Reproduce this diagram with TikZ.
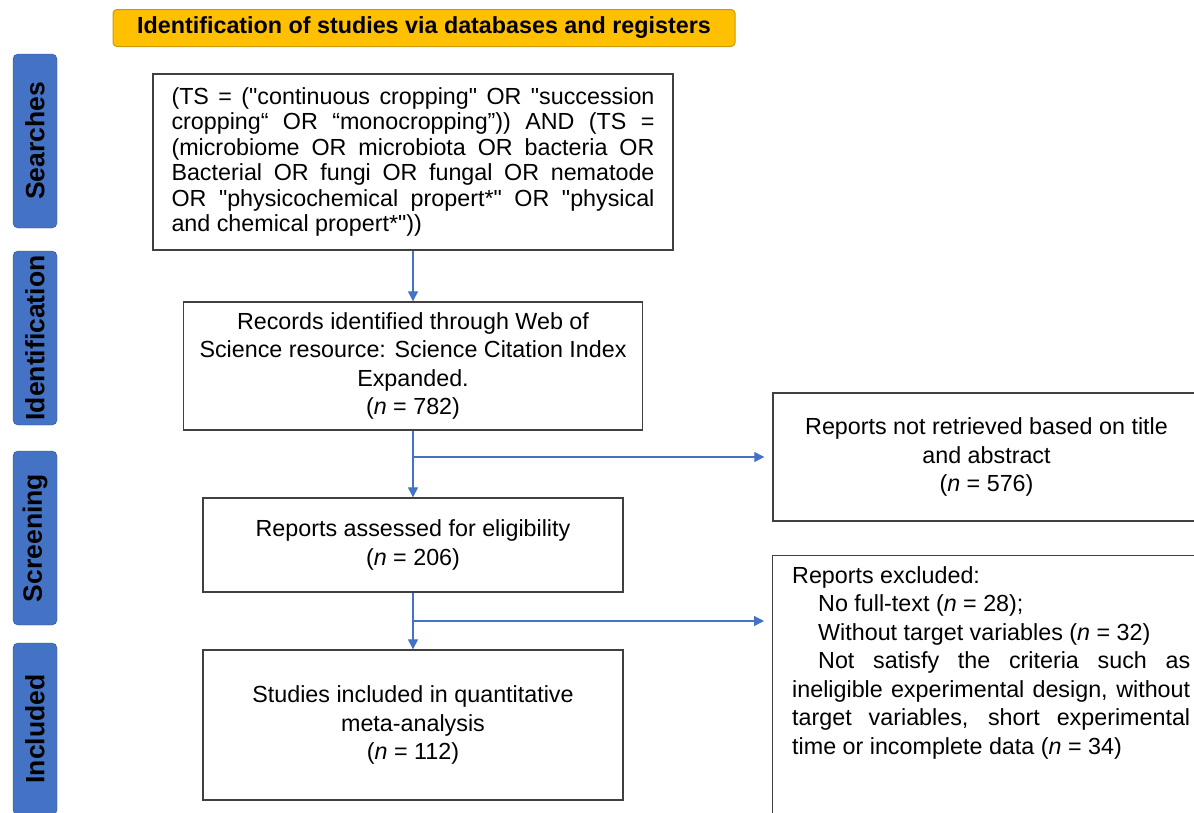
\documentclass[tikz,border=0pt]{standalone}
\usepackage{fontspec}
\setmainfont{Liberation Sans}[Ligatures=TeXOff]
\usetikzlibrary{arrows.meta,calc}
\definecolor{phaseblue}{HTML}{4472C4}
\definecolor{phaseedge}{HTML}{2F528F}
\definecolor{bannergold}{HTML}{FFC000}
\definecolor{banneredge}{HTML}{C99A06}
\definecolor{boxedge}{HTML}{404040}
\tolerance=10000
\hyphenpenalty=10000

\begin{document}
\begin{tikzpicture}[
x=1pt,y=-1pt,
font=\fontsize{23.3}{28.5}\selectfont,
banner/.style={
  draw=banneredge,
  fill=bannergold,
  rounded corners=4pt,
  line width=1pt,
  minimum width=622,
  minimum height=37,
  font=\fontsize{23.3}{28}\selectfont\bfseries
  },
phase/.style={
  draw=phaseedge,
  fill=phaseblue,
  rounded corners=5pt,
  rotate=90,
  inner sep=0pt,
  minimum width=174,
  minimum height=44,
  font=\fontsize{26.5}{30}\selectfont\bfseries
  },
box/.style={
  draw=boxedge,
  line width=1.4pt,
  fill=white,
  align=center
  },
flow/.style={
  ->,
  draw=phaseblue,
  line width=1.3pt
  },
>={Triangle[length=10pt,width=10pt]}
]
\useasboundingbox (0,0) rectangle (1194,812);

% title and phase labels
\node[banner] (head) at (424,28) {Identification of studies via databases and registers};
\node[phase] (searches) at (35,141) {Searches};
\node[phase] (ident) at (35,338) {Identification};
\node[phase] (screen) at (35,538) {Screening};
\node[phase, minimum width=172] (incl) at (35,729) {Included};

% main column
\node[box, text width=483, align=justify, inner xsep=18.5, minimum height=176,
  font=\fontsize{23.3}{25.5}\selectfont] (query) at (413,162)
  {(TS = ("continuous cropping" OR "succession\linebreak
  cropping“ OR “monocropping”)) AND (TS =\linebreak
  (microbiome OR microbiota OR bacteria OR\linebreak
  Bacterial OR fungi OR fungal OR nematode\linebreak
  OR "physicochemical propert*" OR "physical\linebreak
  and chemical propert*"))};
\node[box, minimum width=459, minimum height=128] (records) at (413,366)
  {Records identified through Web of\\Science resource: Science Citation Index\\Expanded.\\({\itshape n} = 782)};
\node[box, minimum width=420, minimum height=94] (assessed) at (413,545)
  {Reports assessed for eligibility\\({\itshape n} = 206)};
\node[box, minimum width=420, minimum height=150] (studies) at (413,725)
  {Studies included in quantitative\\meta-analysis\\({\itshape n} = 112)};

% side column
\node[box, minimum width=427, minimum height=128] (notret) at (986.5,457)
  {Reports not retrieved based on title\\and abstract\\({\itshape n} = 576)};
\node[box, anchor=north west, minimum width=430, minimum height=280] (exclbox) at (772,555) {};
\node[anchor=north west, text width=398, align=justify, inner sep=0pt] (excltext)
  at ($(exclbox.north west)+(20,11)$)
  {Reports excluded:\par
  \hspace*{26pt}No full-text ({\itshape n} = 28);\par
  \hspace*{26pt}Without target variables ({\itshape n} = 32)\par
  \hspace*{26pt}Not satisfy the criteria such as\linebreak
  ineligible experimental design, without\linebreak
  target variables, short experimental\linebreak
  time or incomplete data ({\itshape n} = 34)};

\draw[flow] (query) -- (records);
\draw[flow] (records) -- (assessed);
\draw[flow] (assessed) -- (studies);
\coordinate (split1) at (records.south |- 0,457);
\coordinate (split2) at (assessed.south |- 0,621);
\draw[flow, shorten >=8pt] (split1) -- (notret.west);
\draw[flow, shorten >=8pt] (split2) -- (split2 -| exclbox.west);
\end{tikzpicture}
\end{document}
